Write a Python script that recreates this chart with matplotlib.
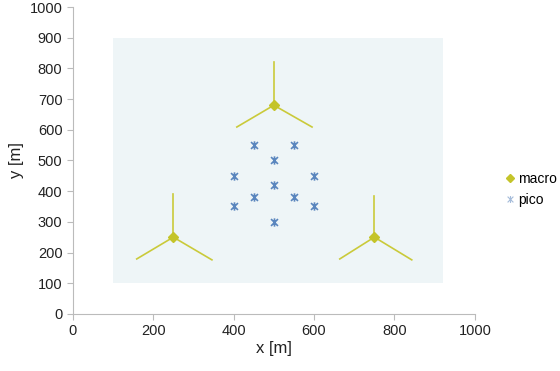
import matplotlib
matplotlib.use("Agg")
import matplotlib.pyplot as plt
from matplotlib.path import Path
from matplotlib.patches import Rectangle
from matplotlib.lines import Line2D

plt.rcParams['font.family'] = ['Liberation Sans', 'DejaVu Sans']

# Data
macro_x = [250, 500, 750]
macro_y = [250, 680, 250]
# sector antenna line endpoints per macro: (up, down-left, down-right)
sector_ends = [
    [(250, 390), (159, 179), (346, 176)],
    [(500, 821), (408, 609), (595, 609)],
    [(750, 385), (664, 179), (843, 176)],
]
pico_x = [450, 550, 500, 400, 600, 500, 450, 550, 400, 600, 500]
pico_y = [550, 550, 500, 450, 450, 420, 380, 380, 350, 350, 300]
area = (100, 100, 920, 900)  # x0, y0, x1, y1
ticks = [0, 200, 400, 600, 800, 1000]
yticks = [0, 100, 200, 300, 400, 500, 600, 700, 800, 900, 1000]

macro_color = '#C4C42A'
line_color = '#CACA3A'
pico_color = '#5A86BE'
bg_color = '#EEF5F7'

star = Path([(-1, -1), (1, 1), (-1, 1), (1, -1), (0, -1.2), (0, 1.2)],
            [Path.MOVETO, Path.LINETO, Path.MOVETO, Path.LINETO, Path.MOVETO, Path.LINETO])

fig = plt.figure(figsize=(5.6, 3.71), dpi=100)
ax = fig.add_axes([0.130, 0.154, 0.718, 0.827])

ax.add_patch(Rectangle((area[0], area[1]), area[2] - area[0], area[3] - area[1],
                       facecolor=bg_color, edgecolor='none', zorder=0))

for (mx, my), ends in zip(zip(macro_x, macro_y), sector_ends):
    for ex, ey in ends:
        ax.plot([mx, ex], [my, ey], color=line_color, lw=1.2, zorder=2)

ax.plot(macro_x, macro_y, linestyle='none', marker='D', markersize=5,
        color=macro_color, zorder=3)
ax.plot(pico_x, pico_y, linestyle='none', marker=star, markersize=6,
        markeredgewidth=1.2, color=pico_color, zorder=3)

ax.set_xlim(0, 1000)
ax.set_ylim(0, 1000)
ax.set_xticks(ticks)
ax.set_yticks(yticks)
for s in ['top', 'right']:
    ax.spines[s].set_visible(False)
for s in ['left', 'bottom']:
    ax.spines[s].set_color('#BBBBBB')
    ax.spines[s].set_linewidth(0.8)
ax.tick_params(direction='out', length=4, width=0.8, color='#BBBBBB',
               labelsize=10.5, labelcolor='#222222')
ax.set_xlabel('x [m]', fontsize=12, color='#222222', labelpad=2)
ax.set_ylabel('y [m]', fontsize=12, color='#222222', labelpad=4)

handles = [
    Line2D([], [], linestyle='none', marker='D', markersize=4, color=macro_color),
    Line2D([], [], linestyle='none', marker=star, markersize=5, markeredgewidth=0.8,
           color='#A5BCDA'),
]
fig.legend(handles, ['macro', 'pico'], loc='center left', bbox_to_anchor=(0.893, 0.49),
           frameon=False, fontsize=10, handlelength=0.5, handletextpad=0.3,
           labelspacing=0.5, borderpad=0)

fig.savefig('out.png', dpi=100)
